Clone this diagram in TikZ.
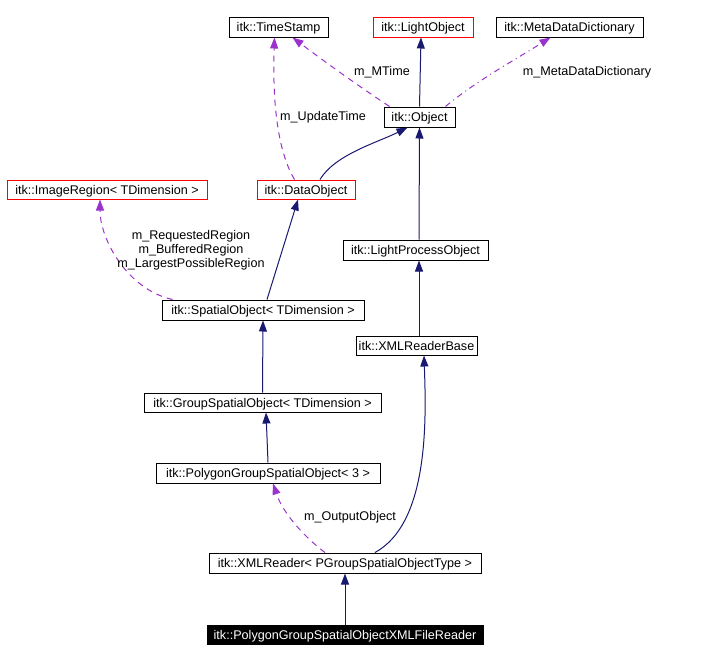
\documentclass[tikz,border=0pt]{standalone}
\usepackage{fontspec}
\setmainfont{Liberation Sans}
\usetikzlibrary{arrows.meta,calc}
\definecolor{navy}{HTML}{191970}
\definecolor{purp}{HTML}{9A32CD}
\begin{document}
\begin{tikzpicture}[x=1pt,y=-1pt,
  cls/.style={draw=black,line width=1pt,inner sep=0pt,text height=10.5pt,text depth=1.5pt,font=\fontsize{12.6}{14}\selectfont,fill=white},
  redcls/.style={cls,draw=red},
  inh/.style={draw=navy,line width=1pt,-{Triangle[length=11pt,width=8pt]}},
  use/.style={draw=purp,line width=1pt,dashed,dash pattern=on 6pt off 5pt,-{Triangle[length=11pt,width=8pt]}},
  usedd/.style={use,dash pattern=on 6pt off 4pt on 1pt off 4pt},
  lbl/.style={font=\fontsize{12.6}{14}\selectfont,inner sep=0pt,align=center}]
\useasboundingbox (0,0) rectangle (717,662);
% nodes
\node[cls,minimum width=99pt,minimum height=20pt] (ts) at (278.5,27) {itk::TimeStamp};
\node[redcls,minimum width=100pt,minimum height=20pt] (lo) at (423,27) {itk::LightObject};
\node[cls,minimum width=147pt,minimum height=20pt] (mdd) at (569.5,27) {itk::MetaDataDictionary};
\node[cls,minimum width=71pt,minimum height=20pt] (obj) at (419.5,117) {itk::Object};
\node[redcls,minimum width=98pt,minimum height=19pt] (dobj) at (306,189.5) {itk::DataObject};
\node[redcls,minimum width=200pt,minimum height=19pt] (ir) at (107,189.5) {itk::ImageRegion< TDimension >};
\node[cls,minimum width=202pt,minimum height=20pt] (so) at (263,310) {itk::SpatialObject< TDimension >};
\node[cls,minimum width=145pt,minimum height=20pt] (lpo) at (415.5,250) {itk::LightProcessObject};
\node[cls,minimum width=121pt,minimum height=19pt] (xrb) at (416.5,345.5) {itk::XMLReaderBase};
\node[cls,minimum width=237pt,minimum height=19pt] (gso) at (262.5,402.5) {itk::GroupSpatialObject< TDimension >};
\node[cls,minimum width=224pt,minimum height=20pt] (pgso) at (268,473) {itk::PolygonGroupSpatialObject< 3 >};
\node[cls,minimum width=272pt,minimum height=20pt] (xr) at (345,563) {itk::XMLReader< PGroupSpatialObjectType >};
\node[cls,fill=black,text=white,minimum width=276pt,minimum height=19pt] (fr) at (345,634.5) {itk::PolygonGroupSpatialObjectXMLFileReader};
% edges
\draw[inh] (obj.north) -- ($(lo.south)+(-2,0)$);
\draw[use] ($(obj.north west)+(6,0)$) .. controls +(-30,-20) and +(40,30) .. ($(ts.south)+(14,0)$);
\node[lbl] (lmt) at (382,72) {m\_MTime};
\draw[usedd] ($(obj.north east)+(-10,0)$) .. controls +(30,-25) and +(-40,25) .. ($(mdd.south)+(-19,0)$);
\node[lbl] (lmdd) at (587,72) {m\_MetaDataDictionary};
\draw[use] ($(dobj.north west)+(38,0)$) .. controls +(-18,-30) and +(-2,60) .. ($(ts.south)+(-4,0)$);
\node[lbl] (lut) at (323,117) {m\_UpdateTime};
\draw[inh] ($(dobj.north)+(14,0)$) .. controls +(15,-25) and +(-30,15) .. ($(obj.south)+(-12,0)$);
\draw[inh] ($(lpo.north)+(3.5,0)$) -- ($(obj.south)+(0,0)$);
\draw[inh] ($(xrb.north)+(2.5,0)$) -- ($(lpo.south)+(3.5,0)$);
\draw[inh] ($(so.north)+(4,0)$) -- ($(dobj.south)+(-8,0)$);
\draw[use] ($(so.north west)+(11,0)$) .. controls +(-45,-10) and +(0,40) .. ($(ir.south)+(-7,0)$);
\node[lbl] (lreg) at (191,250) {m\_RequestedRegion\\m\_BufferedRegion\\m\_LargestPossibleRegion};
\draw[inh] (gso.north) -- (so.south);
\draw[inh] ($(pgso.north)+(0,0)$) -- ($(gso.south)+(3.5,0)$);
\draw[use] ($(xr.north)+(-20,0)$) .. controls +(-20,-15) and +(10,30) .. ($(pgso.south)+(5,0)$);
\node[lbl] (lout) at (350,517) {m\_OutputObject};
\draw[inh] ($(xr.north)+(30,0)$) .. controls +(55,-30) and +(2,60) .. ($(xrb.south)+(7.5,0)$);
\draw[inh] (fr.north) -- (xr.south);
\end{tikzpicture}
\end{document}
